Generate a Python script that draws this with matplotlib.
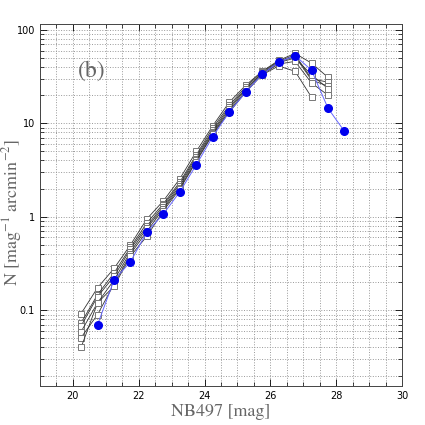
import matplotlib
matplotlib.use("Agg")
import matplotlib.pyplot as plt
from matplotlib.ticker import MultipleLocator, LogLocator, FixedLocator, FixedFormatter

# magnitude bins
mag_grey = [20.25, 20.75, 21.25, 21.75, 22.25, 22.75, 23.25, 23.75,
            24.25, 24.75, 25.25, 25.75, 26.25, 26.75, 27.25, 27.75]
mag_blue = [20.75, 21.25, 21.75, 22.25, 22.75, 23.25, 23.75, 24.25,
            24.75, 25.25, 25.75, 26.25, 26.75, 27.25, 27.75, 28.25]

# number counts of the comparison fields (grey open squares)
field1 = [0.092, 0.174, 0.28, 0.50, 0.95, 1.48, 2.55, 5.0, 9.4, 16.8, 25.5, 36.0, 47.0, 56.0, 44.0, 31.0]
field2 = [0.073, 0.147, 0.25, 0.47, 0.86, 1.38, 2.35, 4.6, 8.9, 15.6, 24.5, 35.5, 46.0, 54.0, 30.0, 27.5]
field3 = [0.068, 0.140, 0.23, 0.45, 0.80, 1.32, 2.25, 4.4, 8.4, 14.9, 23.5, 34.5, 45.0, 52.0, 29.0, 25.0]
field4 = [0.059, 0.120, 0.21, 0.42, 0.76, 1.26, 2.15, 4.2, 8.1, 14.2, 23.0, 34.0, 44.5, 50.0, 33.0, 23.5]
field5 = [0.051, 0.090, 0.19, 0.40, 0.70, 1.22, 2.05, 4.0, 7.8, 13.6, 22.0, 33.5, 43.0, 46.0, 27.0, 20.0]
field6 = [0.040, 0.120, 0.18, 0.38, 0.62, 1.16, 1.98, 3.9, 7.6, 13.1, 21.5, 33.0, 41.0, 36.0, 19.0]
fields = [field1, field2, field3, field4, field5, field6]

# number counts of the target field (blue filled circles)
target = [0.070, 0.21, 0.33, 0.69, 1.07, 1.85, 3.6, 7.2, 13.2, 21.5, 33.5, 45.0, 53.0, 37.0, 14.5, 8.2]

xtick_vals = [20, 22, 24, 26, 28, 30]
ytick_vals = [0.1, 1, 10, 100]
ytick_labels = ["0.1", "1", "10", "100"]

plt.rcParams["mathtext.fontset"] = "stix"

fig = plt.figure(figsize=(4.25, 4.25), dpi=100)
ax = fig.add_axes([0.094, 0.092, 0.852, 0.852])

for f in fields:
    ax.plot(mag_grey[:len(f)], f, color="#333333", lw=0.6,
            marker="s", ms=4, mfc="white", mec="#777777", mew=0.7, zorder=3)
ax.plot(mag_blue, target, color="#6666ff", lw=0.7, marker="o", ms=5.5,
        mfc="#0000ee", mec="#0000ee", zorder=4)

ax.set_yscale("log")
ax.set_xlim(19, 30)
ax.set_ylim(0.0155, 116)

ax.xaxis.set_major_locator(FixedLocator(xtick_vals))
ax.xaxis.set_minor_locator(MultipleLocator(0.5))
ax.yaxis.set_major_locator(FixedLocator(ytick_vals))
ax.yaxis.set_major_formatter(FixedFormatter(ytick_labels))
ax.yaxis.set_minor_locator(LogLocator(base=10, subs=range(2, 10)))
ax.yaxis.set_minor_formatter(plt.NullFormatter())

ax.grid(True, which="both", ls=":", color="#999999", lw=0.7)
ax.tick_params(which="both", direction="in", top=True, right=True, labelsize=7)
ax.tick_params(which="major", length=5, width=0.6)
ax.tick_params(which="minor", length=3, width=0.5)
for s in ax.spines.values():
    s.set_linewidth(0.7)
    s.set_color("#444444")

ax.set_xlabel("NB497 [mag]", family="STIXGeneral", fontsize=13, color="#666666", labelpad=2)
fig.text(12 / 425, 0.5, r"N [mag$^{-1}$ arcmin$^{-2}$]", family="STIXGeneral", fontsize=13,
         color="#666666", rotation=90, ha="center", va="center")
ax.text(20.15, 36, "(b)", family="STIXGeneral", fontsize=17, color="#666666", va="center")

fig.savefig("out.png", dpi=100)
